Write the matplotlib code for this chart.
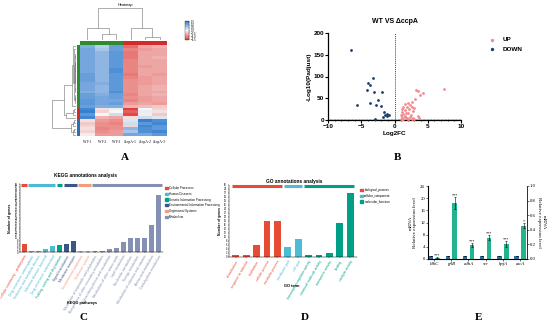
import numpy as np
import matplotlib
matplotlib.use('Agg')
import matplotlib.pyplot as plt
from matplotlib.colors import LinearSegmentedColormap
from matplotlib.patches import Patch

plt.rcParams['font.family'] = ['Liberation Sans', 'DejaVu Sans']
SERIF = ['Liberation Serif', 'DejaVu Serif']

# ---------------- data ----------------
heat_samples = ["WT-1", "WT-2", "WT-3", "ΔccpA-1", "ΔccpA-2", "ΔccpA-3"]
heat_values = [
    [0.9, 0.5, 1.1, -1.2, -0.7, -0.6],
    [1.0, 0.6, 1.1, -1.0, -0.8, -0.7],
    [1.0, 0.8, 1.2, -1.1, -0.7, -0.7],
    [1.0, 0.8, 1.2, -0.9, -0.7, -0.6],
    [1.0, 0.8, 1.2, -1.0, -0.7, -0.7],
    [1.0, 0.8, 1.2, -1.0, -0.8, -0.7],
    [0.9, 0.8, 1.3, -0.9, -0.7, -0.7],
    [1.0, 0.8, 1.2, -1.1, -0.7, -0.7],
    [1.1, 0.8, 1.2, -1.0, -0.8, -0.7],
    [1.0, 0.8, 1.2, -0.9, -0.7, -0.6],
    [1.0, 0.8, 1.3, -1.0, -0.7, -0.7],
    [1.0, 0.8, 1.2, -1.1, -0.7, -0.6],
    [1.1, 0.8, 1.2, -0.9, -0.8, -0.7],
    [1.0, 0.8, 1.3, -1.0, -0.7, -0.7],
    [1.0, 0.8, 1.2, -1.0, -0.7, -0.7],
    [1.1, 0.8, 1.2, -1.1, -0.7, -0.8],
    [1.0, 0.9, 1.2, -0.9, -0.8, -0.7],
    [1.1, 0.9, 1.1, -1.0, -0.7, -0.6],
    [1.1, 1.0, 1.1, -0.9, -0.8, -0.7],
    [1.2, 1.0, 1.0, -1.0, -0.8, -0.7],
    [1.2, 1.0, 1.1, -0.8, -0.7, -0.8],
    [1.1, 0.9, 0.9, -0.6, -0.5, -0.4],
    [1.4, -0.2, 0.1, -1.6, 0.0, -0.3],
    [1.2, 0.0, 0.3, -1.5, -0.1, -0.4],
    [1.5, -0.3, 0.0, -1.3, 0.1, -0.2],
    [1.4, -0.6, -0.7, -0.2, 0.3, 0.2],
    [-0.2, -0.8, -0.9, 0.2, 1.5, 1.3],
    [-0.3, -0.9, -0.9, -0.3, 1.4, 1.2],
    [-0.2, -1.0, -0.9, 0.8, 1.3, 1.2],
    [-0.4, -0.9, -1.0, 0.3, 1.2, 1.4],
    [-0.1, -0.8, -0.8, 1.0, 1.0, 1.2],
    [-0.3, -0.9, -0.8, 0.6, 1.3, 1.4],
]

up_log2fc = [7.38, 3.20, 3.55, 4.31, 3.85, 3.15, 2.65, 2.04, 1.54, 2.34, 2.70, 1.34, 1.94,
             2.95, 1.13, 2.24, 1.64, 2.75, 1.08, 1.74, 1.34, 2.09, 1.05, 1.59, 2.34, 1.18,
             1.84, 2.85, 1.05, 3.60, 3.75, 1.34, 2.09, 2.60, 2.00, 1.20, 3.00, 1.60, 2.50]
up_padj = [70.8, 68.5, 66.9, 63.1, 56.9, 48.5, 41.5, 40.0, 37.7, 35.4, 30.8, 30.8, 29.2,
           28.5, 25.4, 24.6, 23.1, 21.5, 19.2, 16.9, 13.8, 15.4, 11.5, 10.0, 7.7, 6.2,
           5.4, 3.8, 3.1, 10.0, 3.8, 1.5, 1.5, 1.5, 2.5, 1.0, 1.2, 8.0, 12.0]
down_log2fc = [-6.47, -5.70, -3.30, -4.05, -3.70, -4.20, -3.15, -1.84, -2.54, -3.70, -2.80,
               -2.04, -1.60, -1.44, -1.70, -1.20, -1.10, -0.90, -2.90]
down_padj = [161.5, 33.8, 97.0, 86.0, 80.0, 69.0, 65.0, 64.0, 46.0, 40.0, 34.6,
             33.0, 19.0, 11.5, 7.7, 9.0, 13.0, 11.5, 2.3]

kegg_groups = ["Cellular Processes", "Human Diseases", "Genetic Information Processing",
               "Environmental Information Processing", "Organismal Systems", "Metabolism"]
kegg_pathways = ["Cellular community - prokaryotes",
                 "Drug resistance: antineoplastic", "Endocrine and metabolic disease",
                 "Infectious disease: bacterial", "Drug resistance: antimicrobial",
                 "Folding, sorting and degradation",
                 "Signal transduction", "Membrane transport",
                 "Environmental adaptation", "Endocrine system",
                 "Metabolism of terpenoids and polyketides",
                 "Biosynthesis of other secondary metabolites",
                 "Glycan biosynthesis and metabolism",
                 "Metabolism of other amino acids", "Lipid metabolism",
                 "Nucleotide metabolism", "Energy metabolism",
                 "Metabolism of cofactors and vitamins", "Amino acid metabolism",
                 "Carbohydrate metabolism"]
kegg_group_of = [0, 1, 1, 1, 1, 2, 3, 3, 4, 4, 5, 5, 5, 5, 5, 5, 5, 5, 5, 5]
kegg_counts = [6, 1, 1, 2, 4, 5, 6, 8, 1, 1, 1, 1, 2, 3, 7, 10, 10, 10, 19, 40]

go_groups = ["biological_process", "cellular_component", "molecular_function"]
go_terms = ["detoxification", "response to stimulus", "localization", "cellular process",
            "metabolic process", "membrane part", "cell part",
            "transcription regulator activity", "structural molecule activity",
            "transporter activity", "binding", "catalytic activity"]
go_group_of = [0, 0, 0, 0, 0, 1, 1, 2, 2, 2, 2, 2]
go_counts = [1, 1, 6, 18, 18, 5, 9, 1, 1, 2, 17, 32]

qpcr_genes = ["ldhC", "pflB", "adhA", "scr", "hpfA", "ascA"]
qpcr_wt = [1.0, 1.0, 1.0, 1.0, 1.0, 1.0]
qpcr_wt_err = [0.1, 0.1, 0.1, 0.1, 0.1, 0.1]
qpcr_mut = [0.35, 18.3, 4.6, 7.0, 4.8, 10.9]
qpcr_mut_err = [0.15, 2.0, 0.6, 0.8, 1.0, 0.8]
qpcr_sig = ["***", "***", "***", "***", "***", "*"]

# ---------------- helpers ----------------
W, H = 550, 326
fig = plt.figure(figsize=(W / 100, H / 100), dpi=100)


def ax_px(x0, y0, x1, y1, **kw):
    return fig.add_axes([x0 / W, 1 - y1 / H, (x1 - x0) / W, (y1 - y0) / H], **kw)


def ftext(x, y, s, **kw):
    fig.text(x / W, 1 - y / H, s, **kw)


def avg_linkage(X):
    X = np.asarray(X, float)
    n = len(X)
    D = np.sqrt(((X[:, None, :] - X[None, :, :]) ** 2).sum(-1))
    members = {i: [i] for i in range(n)}
    active = list(range(n))
    merges = {}
    nid = n
    while len(active) > 1:
        best = (np.inf, None, None)
        for i in range(len(active)):
            for j in range(i + 1, len(active)):
                a, b = active[i], active[j]
                d = D[np.ix_(members[a], members[b])].mean()
                if d < best[0]:
                    best = (d, a, b)
        d, a, b = best
        members[nid] = members[a] + members[b]
        merges[nid] = (a, b, d)
        active.remove(a)
        active.remove(b)
        active.append(nid)
        nid += 1
    return merges, members, nid - 1, n


def leaf_order(node, merges, members, n):
    if node < n:
        return [node]
    a, b, _ = merges[node]
    if min(members[a]) > min(members[b]):
        a, b = b, a
    return leaf_order(a, merges, members, n) + leaf_order(b, merges, members, n)


def dendro_segments(root, merges, members, n, pos):
    segs = []

    def rec(node):
        if node < n:
            return pos[node], 0.0
        a, b, d = merges[node]
        pa, ha = rec(a)
        pb, hb = rec(b)
        segs.append(([pa, pa, pb, pb], [ha, d, d, hb]))
        return (pa + pb) / 2, d

    rec(root)
    return segs


def cut_tree(root, merges, n, k):
    nodes = [root]
    while len(nodes) < k:
        inner = [x for x in nodes if x >= n]
        x = max(inner, key=lambda q: merges[q][2])
        nodes.remove(x)
        nodes += [merges[x][0], merges[x][1]]
    return nodes

# ---------------- Panel A: heatmap ----------------
M = np.array(heat_values)
nr, nc = M.shape
rm, rmem, rroot, rn = avg_linkage(M)
cm_, cmem, croot, cn = avg_linkage(M.T)
rord = leaf_order(rroot, rm, rmem, rn)
cord = leaf_order(croot, cm_, cmem, cn)
rpos = {leaf: i + 0.5 for i, leaf in enumerate(rord)}
cpos = {leaf: i + 0.5 for i, leaf in enumerate(cord)}

cmap = LinearSegmentedColormap.from_list('hm', ['#E23F3A', '#F6F6F6', '#2A78CE'])
axh = ax_px(80, 45, 167, 136)
im = axh.pcolormesh(M[np.ix_(rord, cord)], cmap=cmap, vmin=-1.6, vmax=1.6)
axh.set_xlim(0, nc)
axh.set_ylim(nr, 0)
axh.set_xticks(np.arange(nc) + 0.5)
axh.set_xticklabels([heat_samples[c] for c in cord], fontsize=2.6, family=SERIF)
axh.tick_params(length=0, pad=3)
axh.set_yticks([])
for s in axh.spines.values():
    s.set_visible(False)

# column dendrogram
axcd = ax_px(80, 8, 167, 40)
for xs, ys in dendro_segments(croot, cm_, cmem, cn, cpos):
    axcd.plot(xs, ys, color='#808080', lw=0.45)
axcd.set_xlim(0, nc)
axcd.set_ylim(0, max(v[2] for v in cm_.values()) * 1.01)
axcd.axis('off')

# column colour bar
axcc = ax_px(80, 41, 167, 45)
ccl = cut_tree(croot, cm_, cn, 2)
ccl.sort(key=lambda q: min(cord.index(m) for m in cmem.get(q, [q])))
col_colors = ['#2E8B2E', '#D42A2A']
for ci, node in enumerate(ccl):
    for m in cmem.get(node, [node]):
        axcc.bar(cpos[m], 1, width=1, color=col_colors[ci], linewidth=0)
axcc.set_xlim(0, nc)
axcc.set_ylim(0, 1)
axcc.axis('off')

# row dendrogram
axrd = ax_px(52, 45, 76, 136)
for xs, ys in dendro_segments(rroot, rm, rmem, rn, rpos):
    axrd.plot(ys, xs, color='#808080', lw=0.45)
axrd.set_ylim(nr, 0)
axrd.set_xlim(max(v[2] for v in rm.values()) * 1.01, 0)
axrd.axis('off')

# row colour bar
axrc = ax_px(77, 45, 80, 136)
rcl = cut_tree(rroot, rm, rn, 3)
rcl.sort(key=lambda q: min(rord.index(m) for m in rmem.get(q, [q])))
row_colors = ['#2E8B2E', '#D42A2A', '#2A6FB8']
for ci, node in enumerate(rcl):
    for m in rmem.get(node, [node]):
        axrc.barh(rpos[m], 1, height=1, color=row_colors[ci], linewidth=0)
axrc.set_ylim(nr, 0)
axrc.set_xlim(0, 1)
axrc.axis('off')

# colour key
cax = ax_px(185, 21, 189, 40)
cb = fig.colorbar(im, cax=cax, ticks=[-1.5, -1, -0.5, 0, 0.5, 1, 1.5])
cb.ax.tick_params(labelsize=2, length=1, width=0.3, pad=0.5)
cb.outline.set_linewidth(0.2)
ftext(125, 5, "Heatmap", fontsize=2.8, ha='center', va='center')
ftext(125, 158, "A", fontsize=8, fontweight='bold', family=SERIF, ha='center', va='center')

# ---------------- Panel B: volcano ----------------
axv = ax_px(328, 33, 461, 120)
axv.scatter(up_log2fc, up_padj, s=4, color='#F28A8E', linewidths=0, label='UP', zorder=3)
axv.scatter(down_log2fc, down_padj, s=4, color='#173F6E', linewidths=0, label='DOWN', zorder=3)
axv.axvline(0, color='#444444', lw=0.7, ls=(0, (1, 1)))
axv.axhline(1.3, color='#777777', lw=0.5, ls=(0, (1, 1)))
axv.set_xlim(-10, 10)
axv.set_ylim(0, 200)
axv.set_xticks([-10, -5, 0, 5, 10])
axv.set_yticks([0, 50, 100, 150, 200])
axv.set_xticks(np.arange(-10, 11, 1), minor=True)
for s in ['top', 'right']:
    axv.spines[s].set_visible(False)
for s in ['left', 'bottom']:
    axv.spines[s].set_linewidth(0.9)
axv.tick_params(labelsize=4.6, length=2, width=0.8, pad=1)
axv.tick_params(which='minor', length=1, width=0.5)
for lab in axv.get_xticklabels() + axv.get_yticklabels():
    lab.set_fontweight('bold')
axv.set_xlabel("Log2FC", fontsize=4.6, fontweight='bold', labelpad=1)
axv.set_ylabel("-Log10(Padjust)", fontsize=4.6, fontweight='bold', labelpad=1)
axv.set_title("WT VS ΔccpA", fontsize=5, fontweight='bold', pad=7)
axv.legend(loc='upper left', bbox_to_anchor=(480 / W, 1 - 31 / H), bbox_transform=fig.transFigure,
           frameon=False, markerscale=1.2, handletextpad=0.6, labelspacing=0.7,
           prop={'weight': 'bold', 'size': 4.6})
ftext(398, 158, "B", fontsize=8, fontweight='bold', family=SERIF, ha='center', va='center')

# ---------------- Panel C: KEGG ----------------
npg = ['#E64B35', '#4DBBD5', '#00A087', '#3C5488', '#F39B7F', '#8491B4']
axk = ax_px(20, 184, 163, 252)
kx = np.arange(len(kegg_counts))
axk.bar(kx, kegg_counts, width=0.68, color=[npg[g] for g in kegg_group_of])
axk.set_xlim(-0.6, len(kx) - 0.4)
axk.set_ylim(0, 48)
axk.set_yticks(np.arange(0, 49, 2))
axk.tick_params(axis='y', labelsize=1.8, length=1, width=0.3, pad=0.5)
axk.set_xticks(kx)
axk.set_xticklabels(kegg_pathways, rotation=60, ha='right', rotation_mode='anchor', fontsize=2.4)
for lab, g in zip(axk.get_xticklabels(), kegg_group_of):
    lab.set_color(npg[g])
axk.tick_params(axis='x', length=0.8, width=0.3, pad=1)
for s in ['top', 'right']:
    axk.spines[s].set_visible(False)
for s in ['left', 'bottom']:
    axk.spines[s].set_linewidth(0.35)
for g in range(len(kegg_groups)):
    idx = [i for i, q in enumerate(kegg_group_of) if q == g]
    axk.plot([min(idx) - 0.4, max(idx) + 0.4], [47.5, 47.5], color=npg[g], lw=2.2,
             solid_capstyle='butt', clip_on=False)
axk.set_ylabel("Number of genes", fontsize=2.6, fontweight='bold', labelpad=2)
ftext(82, 303, "KEGG pathways", fontsize=2.8, fontweight='bold', ha='center', va='center')
ftext(85, 176, "KEGG annotations analysis", fontsize=3.4, fontweight='bold', ha='center', va='center')
axk.legend(handles=[Patch(color=npg[g], label=kegg_groups[g]) for g in range(6)],
           loc='upper left', bbox_to_anchor=(165 / W, 1 - 186 / H), bbox_transform=fig.transFigure,
           frameon=False, fontsize=2.1, handlelength=0.9, handleheight=0.9, labelspacing=0.6,
           handletextpad=0.5, borderaxespad=0, borderpad=0)
ftext(83, 318, "C", fontsize=8, fontweight='bold', family=SERIF, ha='center', va='center')

# ---------------- Panel D: GO ----------------
gcol = ['#E64B35', '#4DBBD5', '#00A087']
axg = ax_px(229, 185, 357, 257)
gx = np.arange(len(go_counts))
axg.bar(gx, go_counts, width=0.66, color=[gcol[g] for g in go_group_of])
axg.set_xlim(-0.65, len(gx) - 0.35)
axg.set_ylim(0, 36)
axg.set_yticks(np.arange(0, 37, 2))
axg.tick_params(axis='y', labelsize=1.8, length=1, width=0.3, pad=0.5)
axg.set_xticks(gx)
axg.set_xticklabels(go_terms, rotation=60, ha='right', rotation_mode='anchor', fontsize=2.4)
for lab, g in zip(axg.get_xticklabels(), go_group_of):
    lab.set_color(gcol[g])
axg.tick_params(axis='x', length=0.8, width=0.3, pad=1)
for s in ['top', 'right']:
    axg.spines[s].set_visible(False)
for s in ['left', 'bottom']:
    axg.spines[s].set_linewidth(0.35)
for g in range(3):
    idx = [i for i, q in enumerate(go_group_of) if q == g]
    axg.plot([min(idx) - 0.4, max(idx) + 0.4], [35.4, 35.4], color=gcol[g], lw=2.2,
             solid_capstyle='butt', clip_on=False)
axg.set_ylabel("Number of genes", fontsize=2.4, fontweight='bold', labelpad=1.5)
ftext(292, 286, "GO term", fontsize=2.8, fontweight='bold', ha='center', va='center')
ftext(294, 181, "GO annotations analysis", fontsize=3.4, fontweight='bold', ha='center', va='center')
axg.legend(handles=[Patch(color=gcol[g], label=go_groups[g]) for g in range(3)],
           loc='upper left', bbox_to_anchor=(360 / W, 1 - 188 / H), bbox_transform=fig.transFigure,
           frameon=False, fontsize=2.2, handlelength=0.9, handleheight=0.9, labelspacing=0.6,
           handletextpad=0.5, borderaxespad=0, borderpad=0)
ftext(305, 318, "D", fontsize=8, fontweight='bold', family=SERIF, ha='center', va='center')

# ---------------- Panel E: qPCR ----------------
axe = ax_px(428, 186, 527, 259)
ex = np.arange(len(qpcr_genes))
off, bw = 0.2, 0.26
axe.bar(ex - off, qpcr_wt, width=bw, color='#2F6DA8', yerr=qpcr_wt_err,
        error_kw=dict(lw=0.4, capsize=0.8, capthick=0.4))
axe.bar(ex + off, qpcr_mut, width=bw, color='#22B48E', yerr=qpcr_mut_err,
        error_kw=dict(lw=0.4, capsize=0.8, capthick=0.4))
for xi, v, e, s in zip(ex, qpcr_mut, qpcr_mut_err, qpcr_sig):
    axe.text(xi + off, v + e + 0.6, s, fontsize=3, ha='center', va='center', family=SERIF)
axe.set_xlim(-0.35, len(ex) - 0.6)
axe.set_ylim(0, 24)
axe.set_yticks(np.arange(0, 25, 4))
axe.set_xticks(ex)
axe.set_xticklabels(qpcr_genes, fontsize=3.4, style='italic', family=SERIF)
axe.tick_params(labelsize=3.4, length=1.2, width=0.4, pad=1)
for lab in axe.get_yticklabels():
    lab.set_family(SERIF)
axe.spines['top'].set_visible(False)
for s in ['left', 'bottom', 'right']:
    axe.spines[s].set_linewidth(0.4)
axe.set_ylabel("mRNA\nRelative expression level", fontsize=3.6, family=SERIF, labelpad=2,
               linespacing=1.1)
axr = axe.twinx()
axr.set_ylim(0, 1.0)
axr.set_yticks(np.arange(0, 1.01, 0.2))
axr.set_yticklabels([f"{v:.1f}" for v in np.arange(0, 1.01, 0.2)], family=SERIF)
axr.tick_params(labelsize=3.4, length=1.2, width=0.4, pad=1)
axr.spines['top'].set_visible(False)
axr.spines['right'].set_linewidth(0.4)
axr.set_ylabel("mRNA\nRelative expression level", fontsize=3.6, family=SERIF, rotation=-90,
               labelpad=7, linespacing=1.1)
ftext(479, 317, "E", fontsize=8, fontweight='bold', family=SERIF, ha='center', va='center')

fig.savefig('out.png', dpi=100)
